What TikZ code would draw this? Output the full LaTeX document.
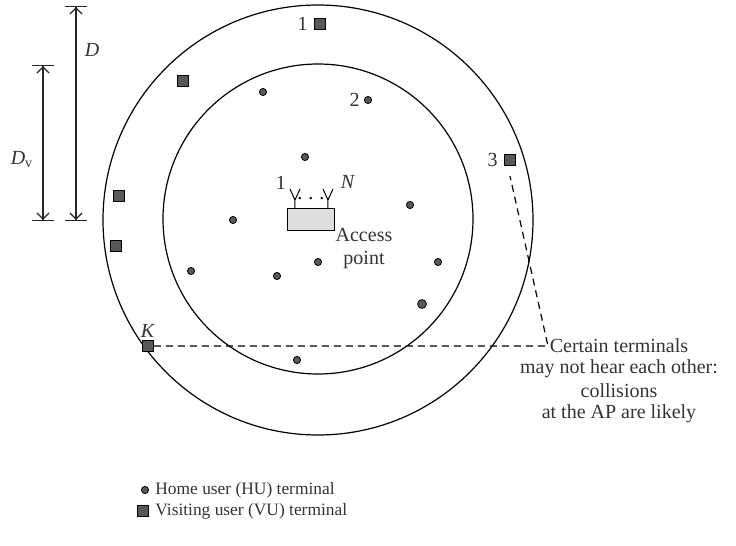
\documentclass[tikz,border=0pt]{standalone}
\usepackage{fontspec}
\setmainfont{Liberation Serif}
\usetikzlibrary{shapes, positioning, arrows.meta}
\colorlet{textColor}{black!80}
\colorlet{markColor}{black!65}
\tikzstyle{hu}=[circle, draw=black, fill=markColor, inner sep=0pt, minimum size=3.6pt, line width=0.4pt]
\tikzstyle{vu}=[rectangle, draw=black, fill=markColor, inner sep=0pt, minimum size=5.6pt, line width=0.4pt]
\tikzstyle{zone}=[circle, draw=black, line width=0.6pt, inner sep=0pt]
\tikzstyle{lbl}=[text=textColor, inner sep=1pt]
\tikzstyle{dim}=[line width=0.6pt, draw=black!85,
  {Bar[width=11pt]Straight Barb[length=3pt,width=6pt]}-{Straight Barb[length=3pt,width=6pt]Bar[width=11pt]}]

\begin{document}
\begin{tikzpicture}[x=0.5pt, y=-0.5pt]
      \useasboundingbox (0,0) rectangle (736,546);
      % coverage zones
      \node(outer) at (318,220) [zone, minimum size=215pt] {};
      \node(inner) at (318,219) [zone, minimum size=155pt] {};
      % radii
      \coordinate(dtop) at (76,6);
      \coordinate(dbot) at (76,221);
      \coordinate(dvtop) at (43,65);
      \coordinate(dvbot) at (43,221);
      \draw[dim] (dtop) to (dbot);
      \draw[dim] (dvtop) to (dvbot);
      \node(dlbl) at (92,50) [lbl] {\textit{D}};
      \node(dvlbl) at (22,160) [lbl] {\textit{D}\textsubscript{v}};
      % access point
      \node(ap) at (311.5,220) [rectangle, draw=black, fill=black!13, minimum width=23.5pt, minimum height=11pt, inner sep=0pt, line width=0.5pt] {};
      \coordinate(ant1) at (295,200);
      \coordinate(antN) at (328,200);
      \draw[line width=0.5pt] (ant1 |- ap.north) -- (ant1) -- +(-5,-11) (ant1) -- +(5,-11);
      \draw[line width=0.5pt] (antN |- ap.north) -- (antN) -- +(-5,-11) (antN) -- +(5,-11);
      \node(apdots) at (311,199) [inner sep=0pt] {.\hspace{3pt}.\hspace{3pt}.};
      \node(ant1lbl) at (281,183) [lbl] {1};
      \node(antNlbl) at (348,182) [lbl] {\textit{N}};
      \node(aptext) at (364,249) [lbl, align=center, font=\fontsize{10}{11.5}\selectfont] {Access\\point};
      % home user terminals
      \node(hu1) at (263,92) [hu] {};
      \node(hu2) at (368,100) [hu, label={[lbl, label distance=1pt]left:2}] {};
      \node(hu3) at (305,157) [hu] {};
      \node(hu4) at (233,220) [hu] {};
      \node(hu5) at (410,205) [hu] {};
      \node(hu6) at (191,271) [hu] {};
      \node(hu7) at (277,276) [hu] {};
      \node(hu8) at (318,262) [hu] {};
      \node(hu9) at (438,262) [hu] {};
      \node(hu10) at (422,304) [hu, minimum size=4.4pt] {};
      \node(hu11) at (297,360) [hu] {};
      % visiting user terminals
      \node(vu1) at (320,24) [vu, label={[lbl, label distance=2pt]left:1}] {};
      \node(vu2) at (183,81) [vu] {};
      \node(vu3) at (510,160) [vu, label={[lbl, label distance=2pt]left:3}] {};
      \node(vu4) at (119,196) [vu] {};
      \node(vu5) at (116,246) [vu] {};
      \node(vu6) at (148,346) [vu, label={[lbl, label distance=0pt]above:\textit{K}}] {};
      % hidden terminals
      \coordinate(bend) at (548,346);
      \draw[line width=0.6pt, dash pattern=on 3.5pt off 2.5pt] (vu6) -- (bend) -- ([yshift=-5pt]vu3.south);
      \node(note) at (619,338) [lbl, anchor=north, inner sep=0pt, align=center, font=\fontsize{10}{10.5}\selectfont]
        {Certain terminals\\may not hear each other:\\[1.5pt]collisions\\at the AP are likely};
      % legend
      \node(lghu) at (145,490) [hu] {};
      \node(lghutext) [lbl, right=3pt of lghu, inner sep=0pt, font=\fontsize{8.7}{10}\selectfont] {Home user (HU) terminal};
      \node(lgvu) at (143,511) [vu] {};
      \node(lgvutext) [lbl, right=3pt of lgvu, inner sep=0pt, font=\fontsize{8.7}{10}\selectfont] {Visiting user (VU) terminal};
    \end{tikzpicture}
\end{document}
